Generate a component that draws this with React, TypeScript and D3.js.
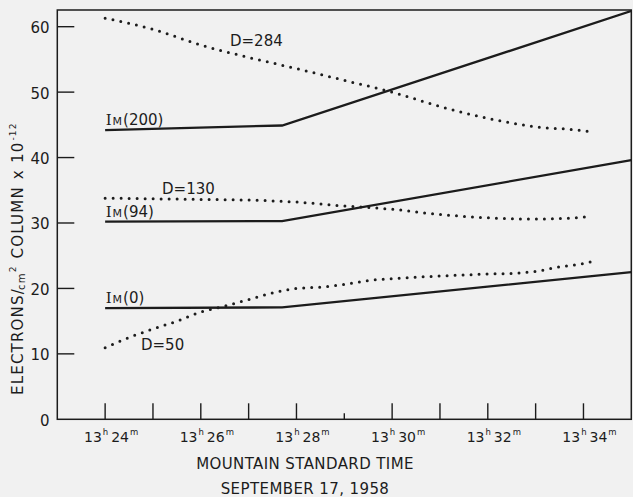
import React from 'react';
import * as d3 from 'd3';

const W = 633;
const H = 497;

// axis ticks
const yTickValues = [0, 10, 20, 30, 40, 50, 60];
const xTickMinutes = [24, 25, 26, 27, 28, 29, 30, 31, 32, 33, 34];
const xLabelMinutes = [24, 26, 28, 30, 32, 34];
const xLabelHours = ['13', '13', '13', '13', '13', '13'];

// I_M solid lines (minutes after 13h)
const imTimes = [24, 27.7, 35];
const im200 = [44.2, 44.9, 62.4];
const im94 = [30.2, 30.3, 39.6];
const im0 = [17.0, 17.1, 22.5];

// dotted D curves
const d284Times = [24, 25, 26, 27, 28, 29, 30, 31, 32, 33, 34, 34.17];
const d284 = [61.3, 59.6, 57.2, 55.3, 53.6, 51.8, 50.0, 47.8, 46.0, 44.7, 44.1, 43.9];
const d130Times = [24, 25, 26, 27, 28, 29, 30, 31, 32, 33, 34, 34.17];
const d130 = [33.8, 33.7, 33.6, 33.5, 33.2, 32.6, 32.1, 31.3, 30.8, 30.6, 30.9, 31.1];
const d50Times = [24, 24.5, 25, 25.5, 26, 26.5, 27, 27.5, 28, 28.5, 29, 29.5, 30, 31, 32, 32.5, 33, 33.5, 34, 34.17];
const d50 = [10.95, 12.5, 13.8, 15.0, 16.4, 17.3, 18.3, 19.3, 20.0, 20.2, 20.6, 21.2, 21.5, 21.9, 22.2, 22.3, 22.6, 23.3, 23.8, 24.1];

// curve labels
const dLabelNames = ['D=284', 'D=130', 'D=50'];
const dLabelTimes = [26.61, 25.19, 24.75];
const dLabelValues = [57.05, 34.43, 10.6];
const imLabelNums = ['200', '94', '0'];

const INK = '#1c1c1c';
const FONT = "'DejaVu Sans', sans-serif";

export default function App() {
  const x = d3.scaleLinear().domain([23, 35]).range([57.3, 631.3]);
  const y = d3.scaleLinear().domain([0, 62.55]).range([419.3, 10]);
  const [x0, x1] = x.range();
  const [y0, y1] = y.range();

  const solid = d3
    .line<[number, number]>()
    .x((d) => x(d[0]))
    .y((d) => y(d[1]));
  const dotted = d3
    .line<[number, number]>()
    .x((d) => x(d[0]))
    .y((d) => y(d[1]))
    .curve(d3.curveMonotoneX);

  const imSeries = [im200, im94, im0];
  const dSeries: [number[], number[]][] = [
    [d284Times, d284],
    [d130Times, d130],
    [d50Times, d50],
  ];

  return (
    <svg
      width={W}
      height={H}
      style={{ position: 'absolute', left: 0, top: 0, background: '#f1f1f1' }}
      fontFamily={FONT}
    >
      <rect x={0} y={0} width={W} height={H} fill="#f1f1f1" />
      <defs>
        <clipPath id="plot">
          <rect x={x0} y={y1} width={x1 - x0} height={y0 - y1} />
        </clipPath>
      </defs>

      {/* frame */}
      <rect x={x0} y={y1} width={x1 - x0} height={y0 - y1} fill="none" stroke={INK} strokeWidth={1.5} />

      {/* y ticks */}
      {yTickValues.map((v) => (
        <g key={'y' + v}>
          {v > 0 && <line x1={x0} x2={x0 + 17} y1={y(v)} y2={y(v)} stroke={INK} strokeWidth={1.4} />}
          <text x={49.5} y={y(v) + 6.5} textAnchor="end" fontSize={15} fill={INK}>
            {v}
          </text>
        </g>
      ))}

      {/* x ticks */}
      {xTickMinutes.map((m) => (
        <line
          key={'x' + m}
          x1={x(m)}
          x2={x(m)}
          y1={y0}
          y2={y0 - (m === 29 ? 6 : 16)}
          stroke={INK}
          strokeWidth={1.4}
        />
      ))}
      {xLabelMinutes.map((m, i) => (
        <text key={'xl' + m} x={x(m) + 6} y={442} textAnchor="middle" fontSize={14} fill={INK}>
          {xLabelHours[i]}
          <tspan fontSize={8.5} dy={-7} dx={1}>
            h
          </tspan>
          <tspan dy={7} dx={3}>
            {m}
          </tspan>
          <tspan fontSize={8.5} dy={-7} dx={1}>
            m
          </tspan>
        </text>
      ))}

      {/* axis titles */}
      <text x={305} y={469} textAnchor="middle" fontSize={15} letterSpacing={0.4} fill={INK}>
        MOUNTAIN STANDARD TIME
      </text>
      <text x={305} y={494} textAnchor="middle" fontSize={15} letterSpacing={0.4} fill={INK}>
        SEPTEMBER 17, 1958
      </text>
      <text
        transform="translate(23,395) rotate(-90)"
        textAnchor="start"
        fontSize={15}
        letterSpacing={1.2}
        fill={INK}
      >
        ELECTRONS
        <tspan>/</tspan>
        <tspan fontSize={10} dy={2} dx={-2}>cm</tspan>
        <tspan fontSize={9} dy={-9} dx={0}>2</tspan>
        <tspan dy={7} dx={7}>COLUMN</tspan>
        <tspan dx={7}>x</tspan>
        <tspan dx={6}>10</tspan>
        <tspan fontSize={9} dy={-7} dx={1}>-12</tspan>
      </text>

      {/* solid I_M lines and dotted D curves */}
      <g clipPath="url(#plot)">
        {imSeries.map((s, i) => (
          <path
            key={'im' + i}
            d={solid(imTimes.map((t, j) => [t, s[j]] as [number, number])) || ''}
            fill="none"
            stroke={INK}
            strokeWidth={2.3}
          />
        ))}
        {dSeries.map(([ts, vs], i) => (
          <path
            key={'d' + i}
            d={dotted(ts.map((t, j) => [t, vs[j]] as [number, number])) || ''}
            fill="none"
            stroke={INK}
            strokeWidth={3}
            strokeLinecap="round"
            strokeDasharray="0 8"
          />
        ))}
      </g>

      {/* I_M labels */}
      {imSeries.map((s, i) => (
        <text key={'iml' + i} x={x(imTimes[0]) + 0.5} y={y(s[0]) - 5} fontSize={15} fill={INK}>
          <tspan fontFamily="'DejaVu Serif', serif">I</tspan>
          <tspan fontSize={11} dx={1}>M</tspan>
          <tspan dx={1}>({imLabelNums[i]})</tspan>
        </text>
      ))}

      {/* D labels */}
      {dLabelNames.map((n, i) => (
        <text key={'dl' + i} x={x(dLabelTimes[i])} y={y(dLabelValues[i])} fontSize={15} fill={INK}>
          {n}
        </text>
      ))}
    </svg>
  );
}
